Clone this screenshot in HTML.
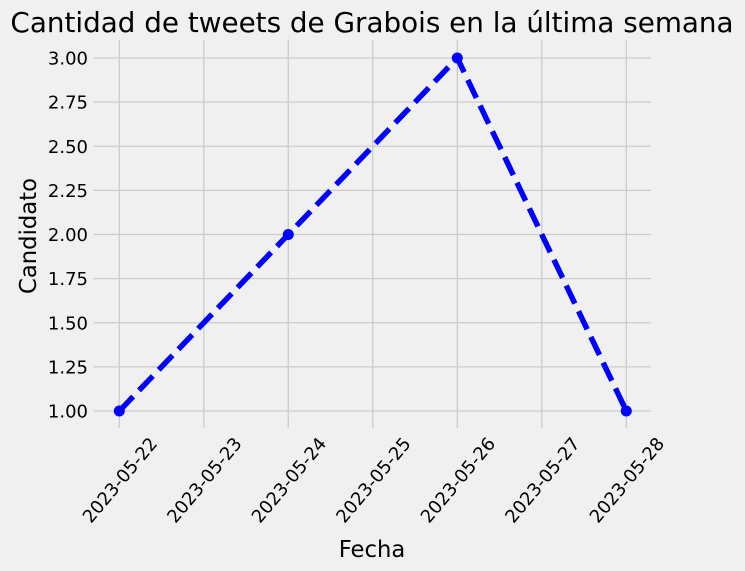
<!DOCTYPE html>
<html><head><meta charset="utf-8"><style>
body{margin:0;background:#f0f0f0}
svg{display:block;font-family:"DejaVu Sans","Liberation Sans",sans-serif}
</style></head><body>
<svg id="chart" width="745" height="571" viewBox="0 0 745 571">
<rect width="745" height="571" fill="#f0f0f0"/>
<text x="372" y="32" font-size="27.8" text-anchor="middle" fill="#000">Cantidad de tweets de Grabois en la última semana</text>
<g id="grid"></g>
<g id="yticks"></g>
<g id="xticks"></g>
<g id="series"></g>
<text x="372" y="557" font-size="22.7" text-anchor="middle">Fecha</text>
<text transform="translate(36,236) rotate(-90)" font-size="22.7" text-anchor="middle">Candidato</text>
</svg>
<script>
const categories=["2023-05-22","2023-05-23","2023-05-24","2023-05-25","2023-05-26","2023-05-27","2023-05-28"];
const dataDays=[0,2,4,6];
const values=[1,2,3,1];
const yTicks=[1.00,1.25,1.50,1.75,2.00,2.25,2.50,2.75,3.00];
const NS="http://www.w3.org/2000/svg";
const L=93.6,R=651,T=40,B=428;
const x=d=>119.3+d*84.5;
const y=v=>411-(v-1)*176.5;
function mk(t,a,p){const e=document.createElementNS(NS,t);for(const k in a)e.setAttribute(k,a[k]);p.appendChild(e);return e;}
const g=document.getElementById('grid'),yt=document.getElementById('yticks'),xt=document.getElementById('xticks'),s=document.getElementById('series');
yTicks.forEach(v=>{
 const l=mk('line',{x1:L,x2:R,y1:y(v),y2:y(v),stroke:'#cbcbcb','stroke-width':1.3},g);
 
 
 const t=mk('text',{x:88,y:y(v)+6.5,'font-size':18,'text-anchor':'end'},yt);
 t.textContent=v.toFixed(2);
 
 
});
categories.forEach((c,i)=>{
 const l=mk('line',{x1:x(i),x2:x(i),y1:T,y2:B,stroke:'#cbcbcb','stroke-width':1.3},g);
 
 
 const tx=x(i)+39,ty=444;
 const t=mk('text',{x:tx,y:ty,'font-size':18,'text-anchor':'end',transform:`rotate(-50 ${tx} ${ty})`},xt);
 t.textContent=c;
 
 
});
const pts=dataDays.map((d,i)=>x(d)+','+y(values[i])).join(' ');
const pl=mk('polyline',{points:pts,fill:'none',stroke:'#0000ff','stroke-width':5.5,'stroke-dasharray':'20 8.5'},s);


dataDays.forEach((d,i)=>{
 const c=mk('circle',{cx:x(d),cy:y(values[i]),r:5.5,fill:'#0000ff'},s);
 
 
});
</script>
</body></html>
